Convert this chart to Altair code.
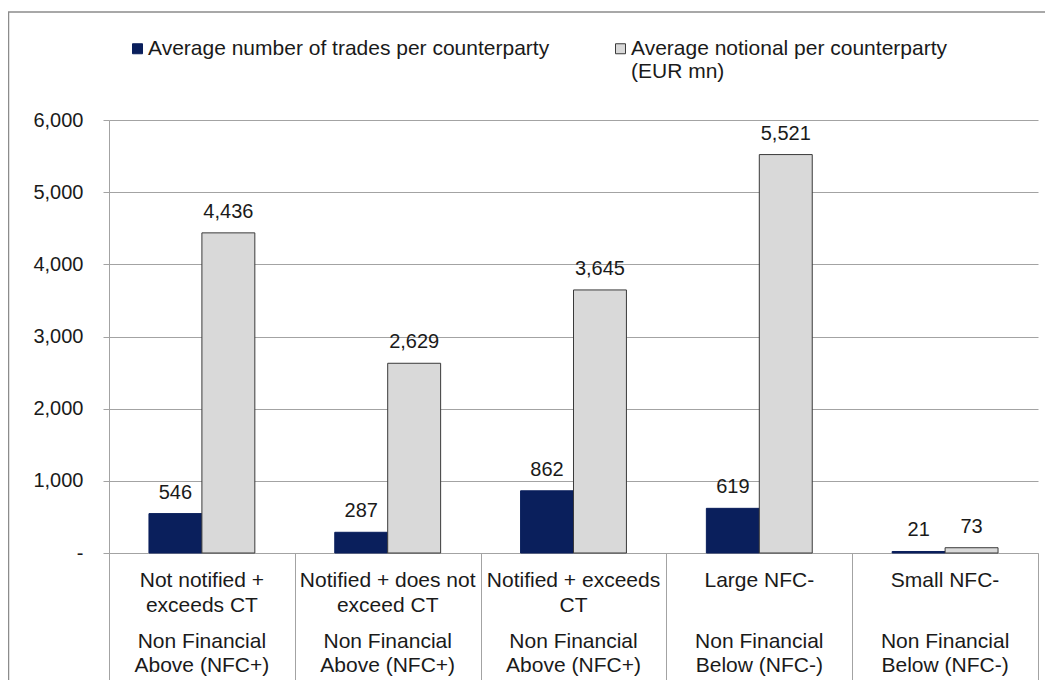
import altair as alt
import pandas as pd

categories = ["Not notified + exceeds CT", "Notified + does not exceed CT",
              "Notified + exceeds CT", "Large NFC-", "Small NFC-"]
top_labels = ["Not notified +\nexceeds CT", "Notified + does not\nexceed CT",
              "Notified + exceeds\nCT", "Large NFC-", "Small NFC-"]
bottom_labels = ["Non Financial\nAbove (NFC+)", "Non Financial\nAbove (NFC+)",
                 "Non Financial\nAbove (NFC+)", "Non Financial\nBelow (NFC-)",
                 "Non Financial\nBelow (NFC-)"]
series = ["Average number of trades per counterparty",
          "Average notional per counterparty (EUR mn)"]
trades = [546, 287, 862, 619, 21]
notional = [4436, 2629, 3645, 5521, 73]
y_ticks = [0, 1000, 2000, 3000, 4000, 5000, 6000]

rows = []
for c, t, n in zip(categories, trades, notional):
    rows.append({"cat": c, "series": series[0], "value": t})
    rows.append({"cat": c, "series": series[1], "value": n})
df = pd.DataFrame(rows)
lab = pd.DataFrame({"cat": categories, "top": top_labels, "bottom": bottom_labels})

W, H = 929, 433
FONT = "Liberation Sans"
GRID = "#a3a3a3"
NAVY = "#0a1f5c"
LGRAY = "#d9d9d9"

x_enc = alt.X("cat:N", sort=categories,
              scale=alt.Scale(paddingInner=0, paddingOuter=0),
              axis=alt.Axis(labels=False, title=None, tickBand="extent", tickSize=140,
                            tickColor=GRID, domainColor=GRID))
xo_enc = alt.XOffset("series:N", sort=series,
                     scale=alt.Scale(paddingOuter=0.755, paddingInner=0))
y_enc = alt.Y("value:Q",
              scale=alt.Scale(domain=[0, 6000], nice=False),
              axis=alt.Axis(values=y_ticks, title=None, grid=True, gridColor=GRID,
                            domainColor=GRID, tickColor=GRID, tickSize=6,
                            labelPadding=20, labelFontSize=20, labelColor="#1a1a1a",
                            labelExpr="datum.value == 0 ? '-\u00a0\u00a0' : format(datum.value, ',')"))

legend = alt.Legend(title=None, orient="none", legendX=18, legendY=-82,
                    direction="horizontal", symbolType="square", symbolSize=100,
                    symbolStrokeWidth=1, labelFontSize=21, labelColor="#1a1a1a",
                    labelOffset=0, columnPadding=60, labelLimit=600,
                    labelExpr="datum.label == '" + series[1] + "' ? ['Average notional per counterparty', '(EUR mn)'] : [datum.label, '']")

color_enc = alt.Color("series:N", sort=series,
                      scale=alt.Scale(domain=series, range=[NAVY, LGRAY]),
                      legend=legend)
stroke_enc = alt.Stroke("series:N", sort=series,
                        scale=alt.Scale(domain=series, range=[NAVY, "#3a3a3a"]),
                        legend=legend)

border = alt.Chart(alt.Data(values=[{"a": 1}])).mark_rect(
    fill="transparent", stroke="#8c8c8c", strokeWidth=1.5
).encode(x=alt.value(-100.5), x2=alt.value(1100), y=alt.value(-108), y2=alt.value(800))

bars = alt.Chart(df).mark_bar(strokeWidth=1).encode(
    x=x_enc, xOffset=xo_enc, y=y_enc, fill=color_enc, stroke=stroke_enc
)

values = alt.Chart(df).mark_text(fontSize=20, baseline="alphabetic", dy=-15,
                                 color="#1a1a1a").encode(
    x=alt.X("cat:N", sort=categories), xOffset=alt.XOffset("series:N", sort=series),
    y="value:Q", text=alt.Text("value:Q", format=",.0f")
)

top_text = alt.Chart(lab).mark_text(fontSize=21, baseline="top", lineBreak="\n",
                                    lineHeight=25, color="#1a1a1a").encode(
    x=alt.X("cat:N", sort=categories), y=alt.value(H + 17), text="top:N"
)
bottom_text = alt.Chart(lab).mark_text(fontSize=21, baseline="top", lineBreak="\n",
                                       lineHeight=24, color="#1a1a1a").encode(
    x=alt.X("cat:N", sort=categories), y=alt.value(H + 78), text="bottom:N"
)

chart = alt.layer(border, bars, values, top_text, bottom_text).properties(
    width=W, height=H,
    autosize=alt.AutoSizeParams(type="none"),
    padding={"left": 101, "top": 112, "right": 7, "bottom": 127},
).configure(font=FONT).configure_view(stroke="transparent")

chart.save("out.html", embed_options={"renderer": "svg", "actions": False})
